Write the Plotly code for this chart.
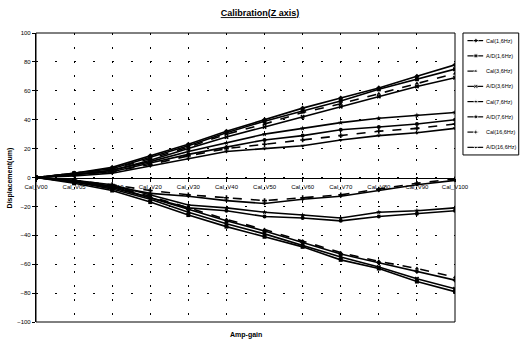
import plotly.graph_objects as go

categories = ["Cal_V00", "Cal_V05", "Cal_V10", "Cal_V20", "Cal_V30", "Cal_V40",
              "Cal_V50", "Cal_V60", "Cal_V70", "Cal_V80", "Cal_V90", "Cal_V100"]

series_names = ["Cal(1,6Hz)", "A/D(1,6Hz)", "Cal(3,6Hz)", "A/D(3,6Hz)",
                "Cal(7,6Hz)", "A/D(7,6Hz)", "Cal(16,6Hz)", "A/D(16,6Hz)"]

# positive direction
pos_1 = [0, 3, 7, 15, 23, 32, 40, 48, 55, 62, 70, 78]
pos_2 = [0, 3, 6, 14, 22, 31, 39, 46, 53, 61, 68, 75]
pos_3 = [0, 3, 6, 13, 21, 30, 37, 45, 51, 58, 65, 72]
pos_4 = [0, 2, 5, 12, 20, 28, 35, 42, 49, 56, 63, 69]
pos_5 = [0, 2, 5, 11, 18, 24, 30, 34, 38, 41, 43, 45]
pos_6 = [0, 2, 4, 10, 16, 21, 26, 29, 33, 35, 37, 40]
pos_7 = [0, 2, 4, 9, 15, 20, 23, 26, 29, 32, 34, 37]
pos_8 = [0, 1, 3, 8, 13, 18, 20, 22, 26, 29, 31, 34]

# negative direction
neg_1 = [0, -3, -7, -14, -22, -30, -37, -45, -53, -59, -65, -71]
neg_2 = [0, -4, -9, -17, -26, -34, -41, -48, -57, -63, -72, -79]
neg_3 = [0, -2, -6, -13, -21, -29, -36, -44, -52, -58, -63, -69]
neg_4 = [0, -3, -8, -15, -24, -32, -39, -47, -55, -62, -70, -77]
neg_5 = [0, -2, -5, -12, -19, -21, -24, -26, -28, -24, -23, -21]
neg_6 = [0, -3, -6, -14, -21, -23, -27, -28, -30, -27, -25, -23]
neg_7 = [0, -2, -5, -9, -12, -14, -16, -14, -12, -8, -4, -1]
neg_8 = [0, -2, -6, -11, -13, -16, -18, -15, -13, -9, -5, -2]

pos_series = [pos_1, pos_2, pos_3, pos_4, pos_5, pos_6, pos_7, pos_8]
neg_series = [neg_1, neg_2, neg_3, neg_4, neg_5, neg_6, neg_7, neg_8]

symbols = ["diamond", "square", "triangle-up", "x", "star", "circle", "cross", "triangle-down"]
dashes = ["solid", "solid", "dash", "solid", "solid", "solid", "dash", "solid"]

y_ticks = [100, 80, 60, 40, 20, 0, -20, -40, -60, -80, -100]

FONT = "Liberation Sans, Arial, sans-serif"

fig = go.Figure()
for i, name in enumerate(series_names):
    fig.add_trace(go.Scatter(
        x=categories, y=pos_series[i], name=name, showlegend=False,
        mode="lines+markers",
        line=dict(color="black", width=1.6, dash=dashes[i]),
        marker=dict(symbol=symbols[i], size=4, color="black"),
    ))
for i, name in enumerate(series_names):
    fig.add_trace(go.Scatter(
        x=categories, y=neg_series[i], name=name, showlegend=False,
        mode="lines+markers",
        line=dict(color="black", width=1.6, dash=dashes[i]),
        marker=dict(symbol=symbols[i], size=4, color="black"),
    ))

# hand-built legend in its own small axis box
n = len(series_names)
for i, name in enumerate(series_names):
    yy = n - 0.5 - i
    fig.add_trace(go.Scatter(
        x=[0.08, 0.23, 0.36], y=[yy, yy, yy], xaxis="x2", yaxis="y2",
        mode="lines+markers", showlegend=False, hoverinfo="skip",
        line=dict(color="black", width=1.2, dash=dashes[i]),
        marker=dict(symbol=symbols[i], size=[0, 4, 0], color="black"),
    ))
    fig.add_annotation(text=name, x=0.38, y=yy, xref="x2", yref="y2",
                       xanchor="left", yanchor="middle", showarrow=False,
                       font=dict(size=5.5, family=FONT))

fig.update_layout(
    width=520, height=345,
    margin=dict(l=36, r=1, t=33, b=23, autoexpand=False),
    paper_bgcolor="white", plot_bgcolor="white",
    font=dict(family=FONT, size=6, color="black"),
    title=dict(text="<b><u>Calibration(Z axis)</u></b>", x=0.5, xref="container",
               y=1 - 13 / 345, yref="container", xanchor="center", yanchor="middle",
               font=dict(size=9, family=FONT)),
    showlegend=False,
    xaxis=dict(
        domain=[0, 0.8675],
        type="category", categoryorder="array", categoryarray=categories,
        range=[0, 11], anchor="free", position=0.5, automargin=False,
        showline=True, linecolor="black", linewidth=1.3,
        ticks="outside", ticklen=3, tickcolor="black",
        tickfont=dict(size=6, family=FONT),
        showgrid=True, gridcolor="black", gridwidth=1, griddash="2px,12px",
        zeroline=False, tickangle=0,
    ),
    yaxis=dict(
        range=[-100, 100], tickvals=y_ticks, ticks="outside", ticklen=3,
        tickcolor="black", showline=True, linecolor="black", linewidth=1.3,
        tickfont=dict(size=6, family=FONT), automargin=False,
        showgrid=True, gridcolor="black", gridwidth=1, griddash="2px,17px",
        zeroline=False,
    ),
    xaxis2=dict(domain=[0.884, 1.0], range=[0, 1], anchor="y2", visible=False,
                fixedrange=True),
    yaxis2=dict(domain=[0.578, 1.0], range=[0, n], anchor="x2", visible=False,
                fixedrange=True),
)

# plot-area frame
fig.add_shape(type="rect", xref="x domain", yref="y domain", x0=0, x1=1, y0=0, y1=1,
              line=dict(color="black", width=1))
# legend frame
fig.add_shape(type="rect", xref="x2 domain", yref="y2 domain", x0=0, x1=0.995, y0=0, y1=1,
              line=dict(color="black", width=1))

fig.add_annotation(text="<b>Amp-gain</b>", xref="x domain", yref="paper",
                   x=0.5, y=-0.045, yanchor="middle", showarrow=False,
                   font=dict(size=7, family=FONT))
fig.add_annotation(text="<b>Displacement(um)</b>", xref="paper", yref="paper",
                   x=-0.054, y=0.5, xanchor="center", yanchor="middle", textangle=-90,
                   showarrow=False, font=dict(size=7, family=FONT))

fig.write_html("out.html", config={"displayModeBar": False},
               post_script="document.body.style.margin='0px';document.body.style.overflow='hidden';")
